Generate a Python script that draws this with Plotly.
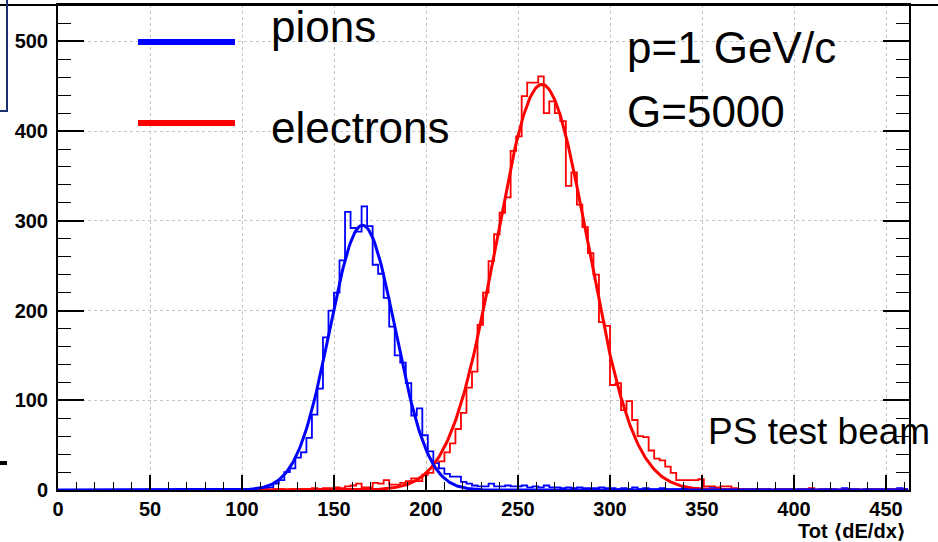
import numpy as np
import plotly.graph_objects as go

# ---------------- data ----------------
bin_width = 3.0
n_bins = 154                      # 0 .. 462

pion_first_edge = 102
pion_counts = [0, 1, 1, 2, 3, 7, 11, 20, 24, 36, 42, 58, 84, 113, 170, 200, 220, 256,
               310, 292, 288, 316, 294, 251, 241, 214, 182, 150, 142, 119, 83, 91, 61,
               43, 30, 24, 18, 15, 15, 9, 7, 5, 4, 4, 7, 4, 4, 5, 4, 4, 5, 3, 4, 3, 5,
               3, 3, 2, 3, 2, 3, 2, 2, 2, 3, 2, 2, 1, 2, 1, 3, 1, 2, 1, 1, 2, 1, 1, 1,
               2, 1, 1, 1, 1, 2, 1, 1, 1, 1, 0, 1, 1, 1, 1, 1, 0, 1, 1, 1, 0, 1, 1, 1,
               0, 1, 1, 1, 0, 2, 1, 1, 0, 1, 1, 1, 1, 1, 1, 2, 1]

electron_first_edge = 93
electron_counts = [1, 0, 1, 0, 1, 0, 1, 0, 1, 1, 0, 1, 1, 1, 1, 2, 1, 2, 2, 3, 2, 4,
                   5, 7, 3, 3, 8, 7, 11, 6, 6, 8, 10, 13, 10, 17, 19, 24, 32, 42, 52,
                   68, 86, 114, 132, 184, 220, 255, 285, 309, 326, 378, 394, 439, 454,
                   454, 461, 420, 433, 420, 411, 339, 354, 318, 293, 264, 240, 187, 183,
                   117, 119, 89, 99, 78, 60, 59, 44, 35, 33, 26, 19, 11, 11, 11, 11, 12,
                   4, 4, 3, 4, 4, 2, 1, 1, 0, 1, 0, 1, 0, 0, 0, 0, 0, 0, 1, 2]

# Gaussian fit parameters (constant, mean, sigma) and fit ranges
pion_fit = (295.0, 165.5, 17.8)
pion_fit_range = (0.0, 462.0)
electron_fit = (452.0, 263.0, 25.0)
electron_fit_range = (93.0, 462.0)

x_ticks = [0, 50, 100, 150, 200, 250, 300, 350, 400, 450]
y_ticks = [0, 100, 200, 300, 400, 500]

legend_labels = ["pions", "electrons"]
info_lines = ["p=1 GeV/c", "G=5000"]
beam_label = "PS test beam"
x_title = "Tot ⟨dE/dx⟩"

BLUE = "#0000ff"
RED = "#ff0000"

# ---------------- helpers ----------------
W, H = 938, 542
L, R, T, B = 58, 909, 5, 490


def px(x):
    return (x - L) / (R - L)


def py(y):
    return (B - y) / (B - T)


def full_hist(first_edge, counts):
    vals = np.zeros(n_bins)
    i0 = int(round(first_edge / bin_width))
    vals[i0:i0 + len(counts)] = counts
    edges = np.arange(n_bins + 1) * bin_width
    return edges, np.append(vals, vals[-1])


def gauss_curve(params, rng):
    a, mu, s = params
    xs = np.linspace(rng[0], rng[1], 600)
    return xs, a * np.exp(-0.5 * ((xs - mu) / s) ** 2)


fig = go.Figure()

ex, ey = full_hist(electron_first_edge, electron_counts)
fig.add_trace(go.Scatter(x=ex, y=ey, mode="lines", line=dict(color=RED, width=1.8, shape="hv"),
                         showlegend=False, hoverinfo="skip"))
bx, by = full_hist(pion_first_edge, pion_counts)
fig.add_trace(go.Scatter(x=bx, y=by, mode="lines", line=dict(color=BLUE, width=1.8, shape="hv"),
                         showlegend=False, hoverinfo="skip"))
gx, gy = gauss_curve(electron_fit, electron_fit_range)
fig.add_trace(go.Scatter(x=gx, y=gy, mode="lines", line=dict(color=RED, width=3),
                         showlegend=False, hoverinfo="skip"))
gx, gy = gauss_curve(pion_fit, pion_fit_range)
fig.add_trace(go.Scatter(x=gx, y=gy, mode="lines", line=dict(color=BLUE, width=3),
                         showlegend=False, hoverinfo="skip"))

tick_font = dict(family="Liberation Sans, Arial, sans-serif", size=20, color="black", weight="bold")

fig.update_xaxes(range=[0, 462.5], tickvals=x_ticks, ticks="inside", ticklen=15, tickwidth=1.5,
                 tickcolor="black", showline=True, linecolor="black", linewidth=2, mirror=True,
                 showgrid=True, gridcolor="#c4c4c4", griddash="dot", gridwidth=1,
                 zeroline=False, tickfont=tick_font, automargin=False,
                 minor=dict(dtick=10, tick0=0, ticks="inside", ticklen=8, tickwidth=1.2,
                            tickcolor="black", showgrid=False))
fig.update_yaxes(range=[0, 540.5], tickvals=y_ticks, ticks="inside", ticklen=26, tickwidth=1.5,
                 tickcolor="black", showline=True, linecolor="black", linewidth=2, mirror="ticks",
                 showgrid=True, gridcolor="#c4c4c4", griddash="dot", gridwidth=1,
                 zeroline=False, tickfont=tick_font, ticklabelstandoff=4, automargin=False,
                 minor=dict(dtick=20, tick0=0, ticks="inside", ticklen=13, tickwidth=1.2,
                            tickcolor="black", showgrid=False))

shapes = [
    # legend line samples
    dict(type="line", xref="paper", yref="paper", x0=px(138), x1=px(235), y0=py(42), y1=py(42),
         line=dict(color=BLUE, width=6)),
    dict(type="line", xref="paper", yref="paper", x0=px(138), x1=px(235), y0=py(123), y1=py(123),
         line=dict(color=RED, width=6)),
    # slide decorations
    dict(type="line", xref="paper", yref="paper", x0=px(0), x1=px(938), y0=py(5), y1=py(5),
         line=dict(color="black", width=2)),
    dict(type="rect", xref="paper", yref="paper", x0=px(-20), x1=px(7), y0=py(111), y1=py(-20),
         line=dict(color="#1c2f6e", width=2)),
    dict(type="line", xref="paper", yref="paper", x0=px(0), x1=px(7), y0=py(463), y1=py(463),
         line=dict(color="black", width=4)),
]

big = dict(family="Liberation Sans, Arial, sans-serif", size=44, color="black")
ann = [
    dict(text=legend_labels[0], x=px(269), y=py(27), xanchor="left", yanchor="middle", font=big),
    dict(text=legend_labels[1], x=px(269), y=py(127), xanchor="left", yanchor="middle", font=big),
    dict(text=info_lines[0], x=px(625), y=py(47), xanchor="left", yanchor="middle", font=big),
    dict(text=info_lines[1], x=px(625), y=py(111), xanchor="left", yanchor="middle", font=big),
    dict(text=beam_label, x=px(706), y=py(431), xanchor="left", yanchor="middle",
         font=dict(family="Liberation Sans, Arial, sans-serif", size=37, color="black")),
    dict(text=x_title, x=px(908), y=py(531), xanchor="right", yanchor="middle",
         font=dict(family="Liberation Sans, DejaVu Sans, sans-serif", size=20, color="black",
                   weight="bold")),
]
for a in ann:
    a.update(xref="paper", yref="paper", showarrow=False)

fig.update_layout(width=W, height=H, autosize=False,
                  margin=dict(l=L, r=W - R, t=T, b=H - B),
                  paper_bgcolor="white", plot_bgcolor="white",
                  shapes=shapes, annotations=ann, showlegend=False)

fig.write_html("out.html", config={"displayModeBar": False},
               post_script="document.body.style.margin='0';document.body.style.overflow='hidden';")
